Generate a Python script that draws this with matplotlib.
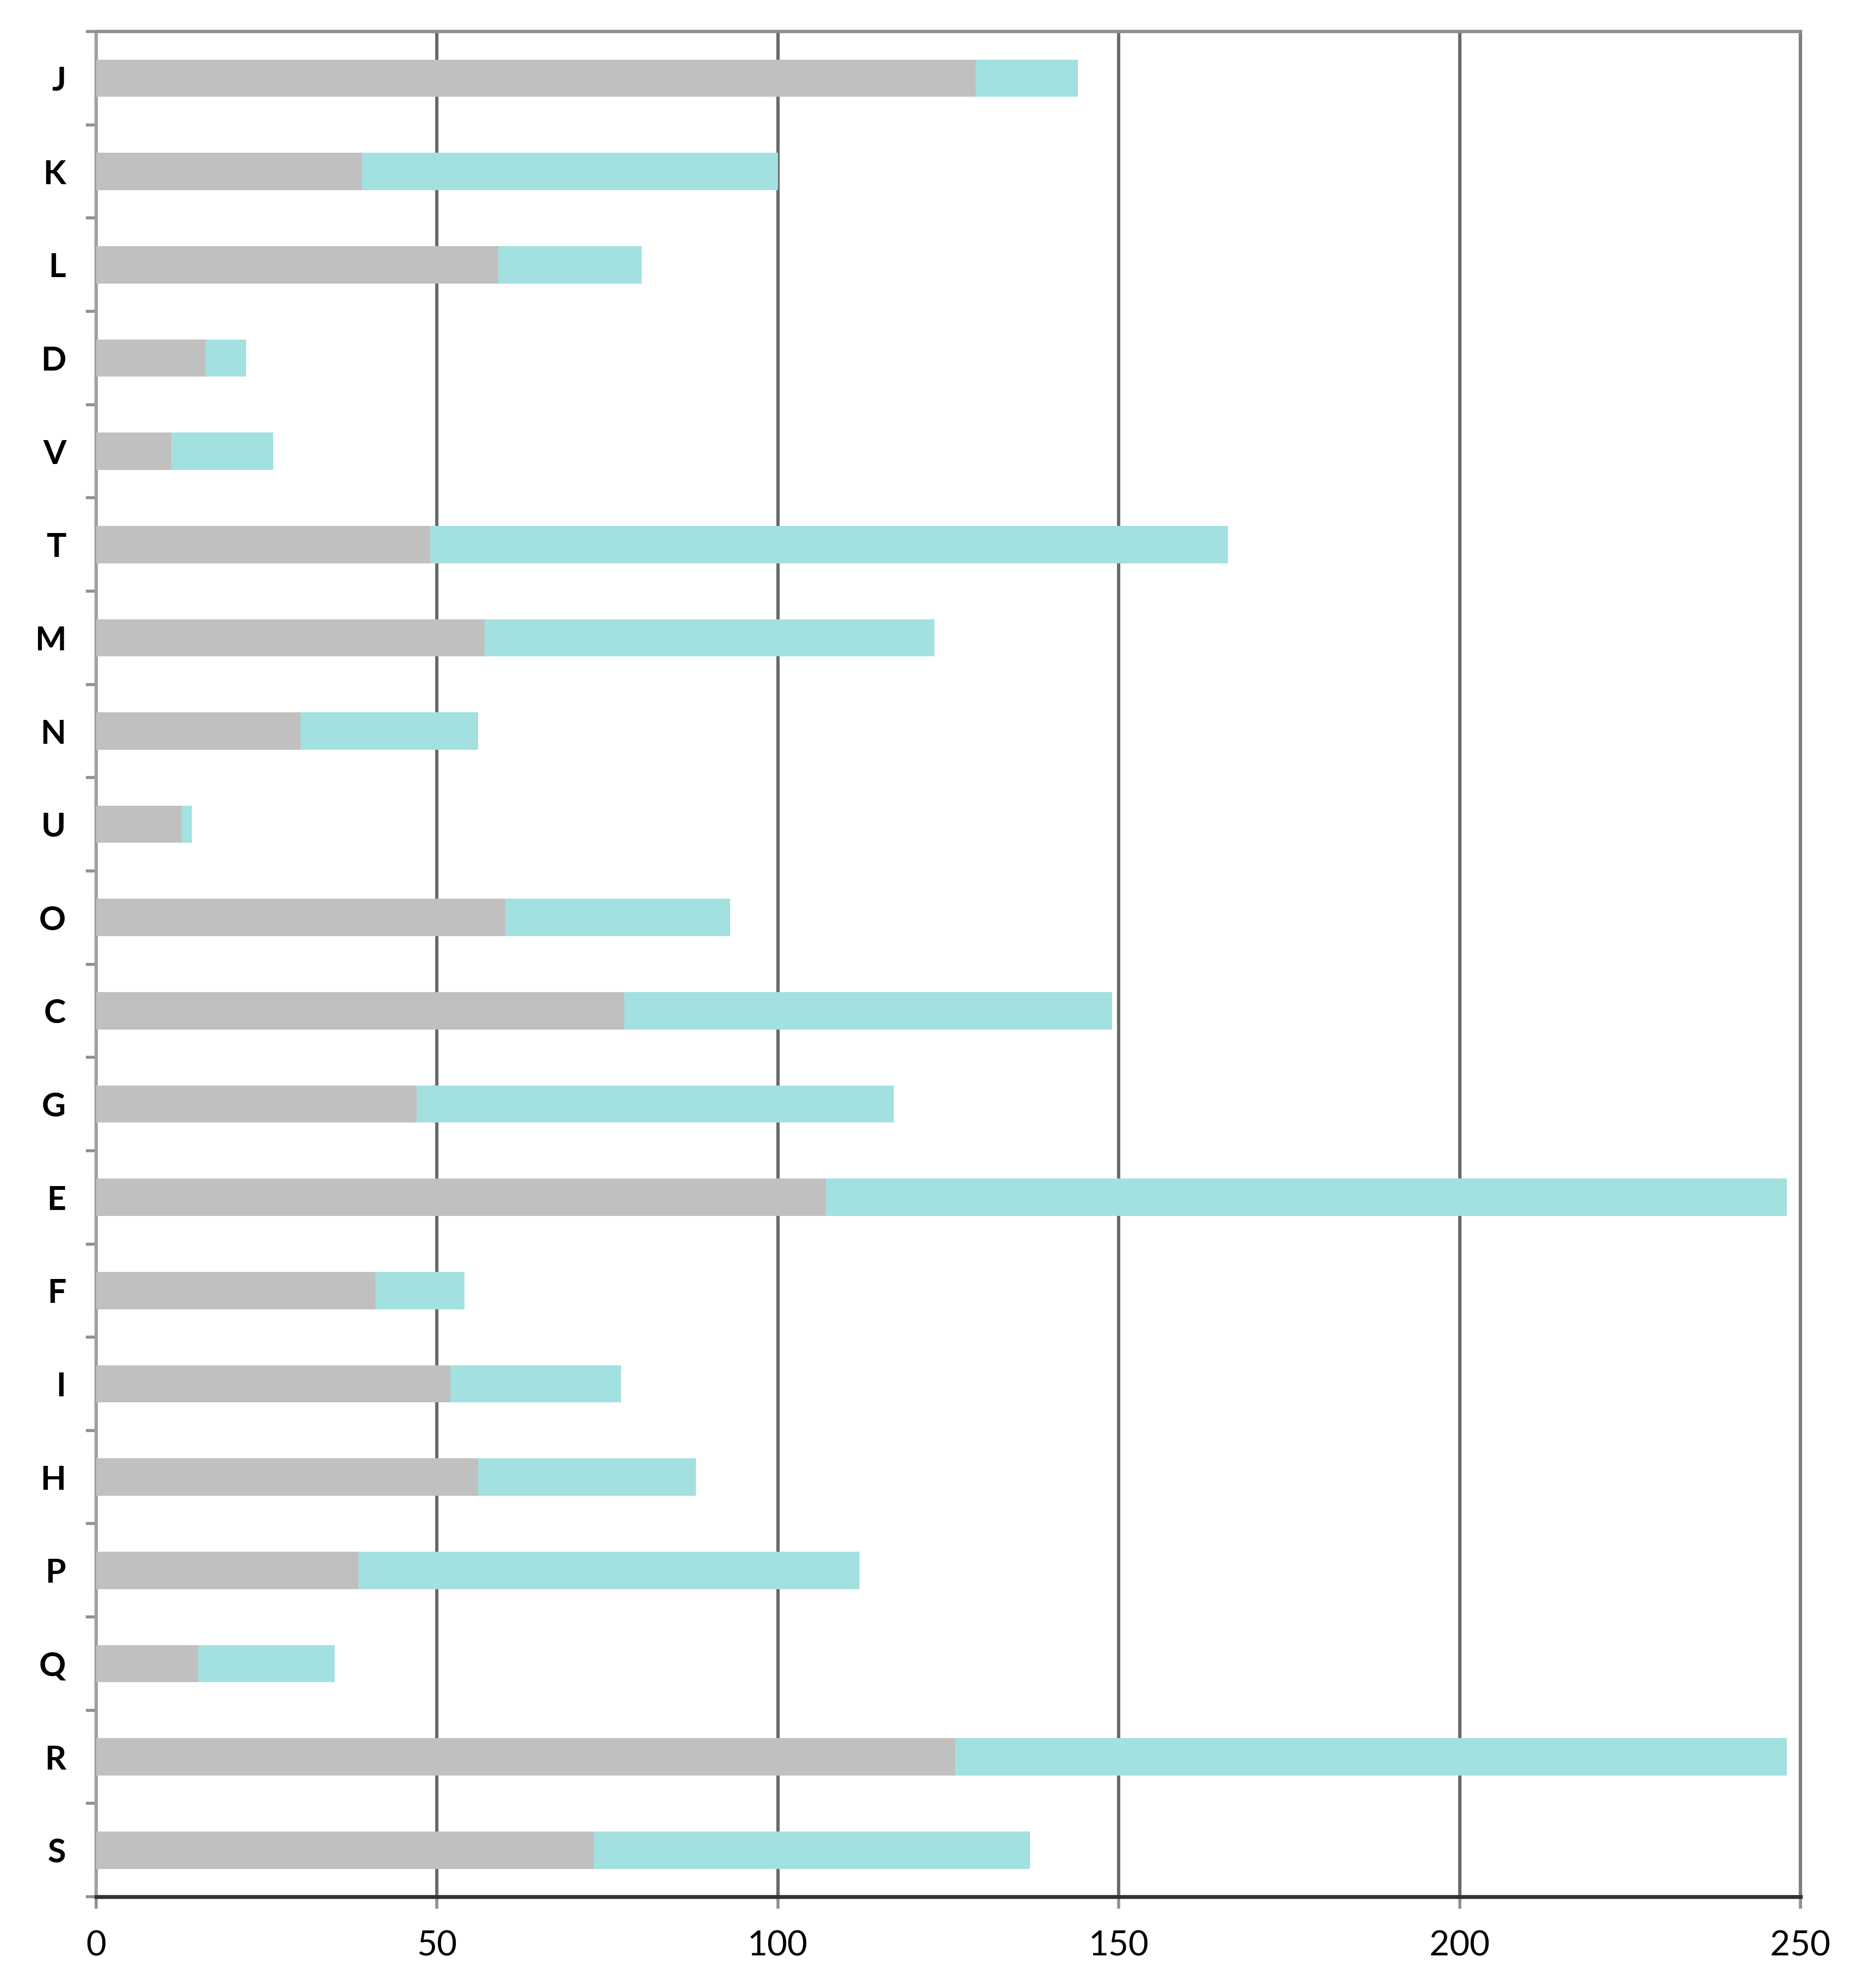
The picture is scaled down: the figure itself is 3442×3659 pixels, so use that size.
import numpy as np
import matplotlib.pyplot as plt

cats = ['J', 'K', 'L', 'D', 'V', 'T', 'M', 'N', 'U', 'O',
        'C', 'G', 'E', 'F', 'I', 'H', 'P', 'Q', 'R', 'S']
gray_vals = [129, 39, 59, 16, 11, 49, 57, 30, 12.5, 60,
             77.5, 47, 107, 41, 52, 56, 38.5, 15, 126, 73]
totals = [144, 100, 80, 22, 26, 166, 123, 56, 14, 93,
          149, 117, 248, 54, 77, 88, 112, 35, 248, 137]
cyan_vals = [t - g for t, g in zip(totals, gray_vals)]
xticks = [0, 50, 100, 150, 200, 250]

plt.rcParams['font.family'] = ['Lato', 'DejaVu Sans']

fig = plt.figure(figsize=(17.21, 18.295), dpi=200)
ax = fig.add_axes([0.0514, 0.0459, 0.9114, 0.9382])

y = np.arange(len(cats))
ax.barh(y, gray_vals, height=0.4, color='#c0c0c0', zorder=3)
ax.barh(y, cyan_vals, left=gray_vals, height=0.4, color='#a3e0e0', zorder=3)

ax.set_xlim(0, 250)
ax.set_ylim(len(cats) - 0.5, -0.5)
ax.set_xticks(xticks)
ax.set_xticklabels([str(v) for v in xticks], fontsize=23)
ax.set_yticks(y)
ax.set_yticklabels(cats, fontsize=22, fontweight='bold')
ax.set_yticks(np.arange(len(cats) + 1) - 0.5, minor=True)

ax.grid(axis='x', color='#6a6a6a', linewidth=2.2, zorder=1)
ax.tick_params(axis='y', which='major', length=0, pad=20)
ax.tick_params(axis='y', which='minor', length=7, width=2, color='#909090')
ax.tick_params(axis='x', length=8, width=2, color='#909090', pad=14)

ax.spines['bottom'].set_color('#333333')
ax.spines['bottom'].set_linewidth(2.6)
ax.spines['left'].set_color('#a0a0a0')
ax.spines['left'].set_linewidth(2.2)
ax.spines['top'].set_color('#8f8f8f')
ax.spines['top'].set_linewidth(2.2)
ax.spines['right'].set_color('#7f7f7f')
ax.spines['right'].set_linewidth(2.2)

fig.savefig('out.png', dpi=200)
